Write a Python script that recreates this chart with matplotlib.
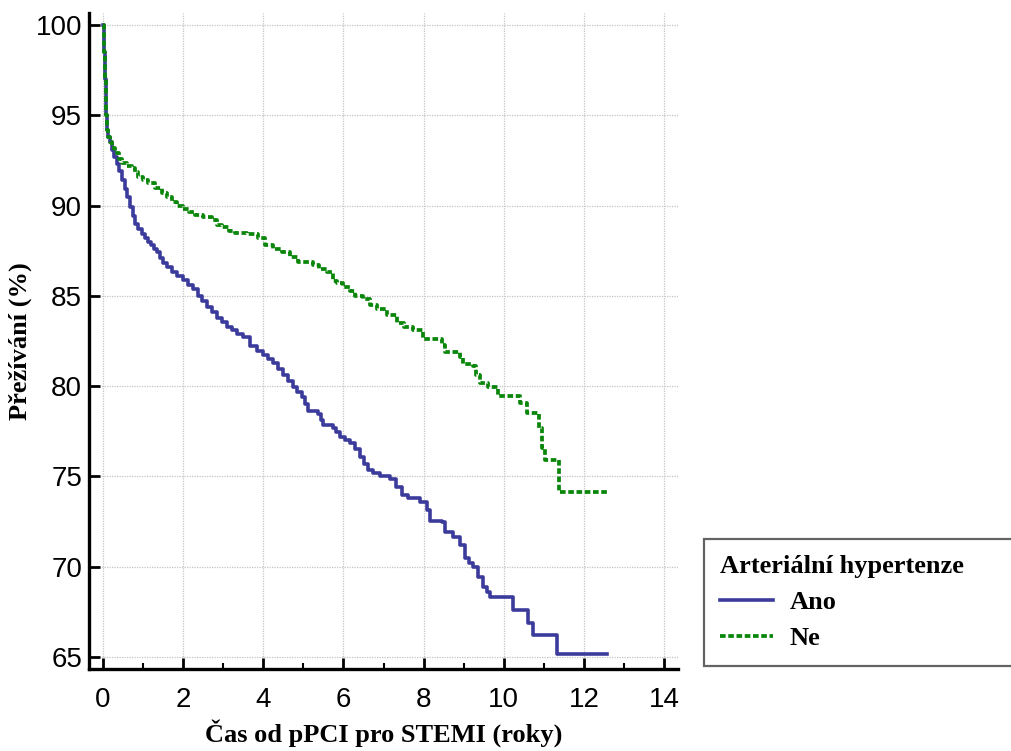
import matplotlib
matplotlib.use("Agg")
from matplotlib import pyplot as plt
from matplotlib.ticker import MultipleLocator

# Kaplan-Meier curves (time in years, survival in %)
ano_t = [0, 0.02, 0.04, 0.07, 0.10, 0.13, 0.17, 0.22, 0.28, 0.35, 0.41, 0.47,
         0.54, 0.60, 0.67, 0.74, 0.80, 0.88, 0.97, 1.05, 1.12, 1.20, 1.28, 1.35,
         1.42, 1.50, 1.60, 1.72, 1.85, 2.00, 2.12, 2.25, 2.36, 2.47, 2.60, 2.72,
         2.85, 2.97, 3.10, 3.22, 3.35, 3.50, 3.67, 3.85, 4.00, 4.12, 4.24, 4.37,
         4.49, 4.62, 4.74, 4.85, 4.97, 5.05, 5.12, 5.37, 5.45, 5.49, 5.74, 5.82,
         5.91, 6.04, 6.16, 6.28, 6.41, 6.52, 6.61, 6.75, 6.91, 7.16, 7.30, 7.45,
         7.60, 7.91, 8.08, 8.16, 8.46, 8.54, 8.74, 8.91, 9.03, 9.13, 9.23, 9.36,
         9.48, 9.58, 9.66, 10.23, 10.61, 10.73, 11.34, 12.58]
ano_s = [100, 98.5, 97.0, 95.0, 94.2, 93.8, 93.5, 93.1, 92.7, 92.3, 91.9, 91.4,
         90.9, 90.5, 89.9, 89.4, 89.0, 88.7, 88.4, 88.2, 88.0, 87.8, 87.6, 87.4,
         87.1, 86.8, 86.6, 86.3, 86.1, 85.9, 85.6, 85.4, 85.0, 84.7, 84.4, 84.1,
         83.8, 83.55, 83.3, 83.1, 82.9, 82.7, 82.2, 81.95, 81.73, 81.5, 81.28, 80.95,
         80.6, 80.3, 79.97, 79.7, 79.4, 79.0, 78.65, 78.45, 78.1, 77.85, 77.7, 77.45,
         77.2, 77.0, 76.85, 76.5, 76.1, 75.7, 75.36, 75.2, 75.05, 74.85, 74.4, 74.0,
         73.8, 73.6, 73.15, 72.55, 72.5, 71.95, 71.67, 71.2, 70.47, 70.2, 70.0, 69.45,
         68.9, 68.6, 68.35, 67.6, 66.87, 66.22, 65.17, 65.17]

ne_t = [0, 0.02, 0.04, 0.07, 0.10, 0.13, 0.17, 0.22, 0.30, 0.40, 0.47, 0.60,
        0.72, 0.80, 0.87, 1.00, 1.12, 1.30, 1.47, 1.60, 1.72, 1.85, 2.00, 2.15,
        2.30, 2.50, 2.72, 2.85, 2.97, 3.15, 3.30, 3.60, 3.87, 4.05, 4.25, 4.47,
        4.67, 4.87, 5.24, 5.40, 5.59, 5.74, 5.84, 6.00, 6.16, 6.30, 6.49, 6.66,
        6.84, 7.09, 7.34, 7.50, 7.74, 7.99, 8.46, 8.54, 8.91, 8.98, 9.23, 9.30,
        9.41, 9.61, 9.86, 10.40, 10.58, 10.88, 10.96, 11.03, 11.38, 12.60]
ne_s = [100, 98.5, 97.0, 95.0, 94.2, 93.8, 93.5, 93.2, 92.9, 92.6, 92.35, 92.2,
        92.1, 91.85, 91.6, 91.4, 91.25, 90.95, 90.7, 90.45, 90.2, 90.0, 89.8, 89.65,
        89.5, 89.35, 89.2, 88.95, 88.8, 88.6, 88.5, 88.45, 88.2, 87.8, 87.6, 87.4,
        87.15, 86.9, 86.7, 86.5, 86.34, 85.8, 85.7, 85.5, 85.25, 85.0, 84.8, 84.5,
        84.27, 83.94, 83.5, 83.3, 83.1, 82.6, 82.3, 81.9, 81.6, 81.2, 81.1, 80.6,
        80.17, 79.96, 79.46, 79.07, 78.5, 77.7, 76.6, 75.9, 74.14, 74.14]

x_ticks = [0, 2, 4, 6, 8, 10, 12, 14]
y_ticks = [65, 70, 75, 80, 85, 90, 95, 100]

serif = "Liberation Serif"
sans = "Liberation Sans"
blue = "#3b3b9c"
green = "#0a860a"

fig = plt.figure(figsize=(10.11, 7.51), dpi=100)
ax = fig.add_axes([89 / 1011, 82 / 751, 589 / 1011, 656 / 751])

ax.plot(ano_t, ano_s, drawstyle="steps-post", color=blue, lw=2.6, label="Ano")
ax.plot(ne_t, ne_s, drawstyle="steps-post", color=green, lw=2.7,
        linestyle=(0, (1.5, 0.7)), label="Ne")

ax.set_xlim(-0.35, 14.35)
ax.set_ylim(64.34, 100.66)
ax.set_xticks(x_ticks)
ax.set_yticks(y_ticks)
ax.xaxis.set_minor_locator(MultipleLocator(1))
ax.grid(True, color="#c4c4c4", linestyle=(0, (1, 1)), linewidth=0.9)
ax.set_axisbelow(True)

for side in ["top", "right"]:
    ax.spines[side].set_visible(False)
for side in ["left", "bottom"]:
    ax.spines[side].set_linewidth(2.4)
    ax.spines[side].set_color("black")

ax.tick_params(axis="both", which="major", direction="in", width=2.0, length=8,
               labelsize=20, labelfontfamily=sans)
ax.tick_params(axis="x", which="major", pad=13)
ax.tick_params(axis="y", which="major", pad=5)
ax.tick_params(axis="x", which="minor", direction="in", width=1.5, length=4)

ax.set_xlabel("Čas od pPCI pro STEMI (roky)", family=serif, fontweight="bold",
              fontsize=19, labelpad=4)
ax.set_ylabel("Přežívání (%)", family=serif, fontweight="bold", fontsize=19)
ax.yaxis.set_label_coords(-0.096, 0.5)

leg = ax.legend(title="Arteriální hypertenze", loc="upper left",
                bbox_to_anchor=(704 / 1011, 1 - 540 / 751, 312 / 1011, 0.001),
                bbox_transform=fig.transFigure, mode="expand", borderaxespad=0,
                alignment="left", fancybox=False, frameon=True,
                prop={"family": serif, "weight": "bold", "size": 19},
                title_fontproperties={"family": serif, "weight": "bold", "size": 19},
                handlelength=2.0, handletextpad=0.65, borderpad=0.6,
                labelspacing=0.47)
leg.get_frame().set_edgecolor("#3c3c3c")
leg.get_frame().set_linewidth(1.6)

fig.savefig("out.png", dpi=100)
